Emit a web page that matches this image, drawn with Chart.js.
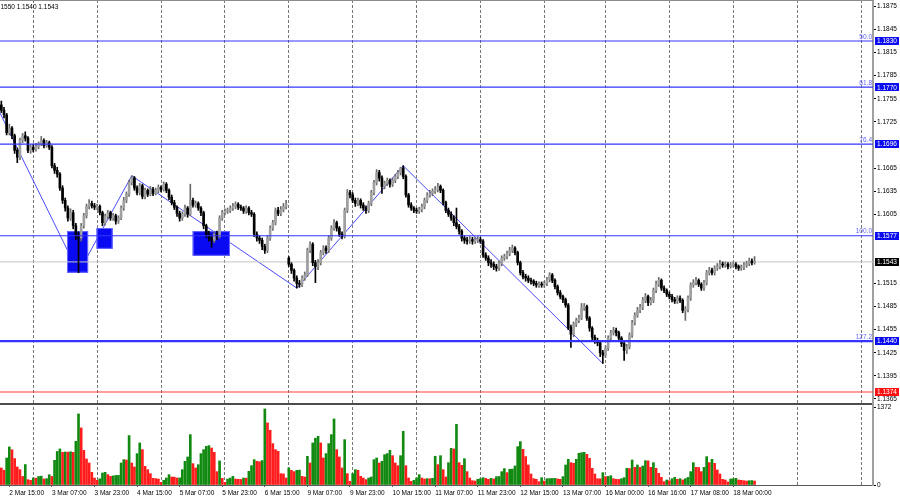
<!DOCTYPE html>
<html>
<head>
<meta charset="utf-8">
<script src="https://cdn.jsdelivr.net/npm/chart.js@4"></script>
<style>
  body { margin: 0; background: #fff; width: 900px; height: 500px; overflow: hidden; position: relative; }
  canvas { position: absolute; left: 0; }
  #price { top: 0; }
  #volume { top: 403px; }
</style>
</head>
<body>
<canvas id="price" width="900" height="403"></canvas>
<canvas id="volume" width="900" height="97"></canvas>
<script>
// EURUSD H1, 2 Mar - 18 Mar, one entry per hourly candle
const opens = [
  1.1747, 1.1740, 1.1734, 1.1711, 1.1717, 1.1707, 1.1688, 1.1679, 1.1701, 1.1707, 1.1704, 1.1688,
  1.1692, 1.1689, 1.1693, 1.1696, 1.1701, 1.1694, 1.1698, 1.1692, 1.1668, 1.1662, 1.1657, 1.1639,
  1.1623, 1.1613, 1.1600, 1.1607, 1.1590, 1.1576, 1.1574, 1.1590, 1.1603, 1.1615, 1.1619, 1.1616,
  1.1614, 1.1615, 1.1607, 1.1594, 1.1602, 1.1607, 1.1600, 1.1603, 1.1596, 1.1600, 1.1613, 1.1623,
  1.1631, 1.1646, 1.1652, 1.1639, 1.1633, 1.1642, 1.1628, 1.1636, 1.1631, 1.1637, 1.1632, 1.1636,
  1.1640, 1.1637, 1.1644, 1.1636, 1.1627, 1.1620, 1.1614, 1.1606, 1.1600, 1.1605, 1.1613, 1.1605,
  1.1623, 1.1617, 1.1619, 1.1613, 1.1607, 1.1590, 1.1578, 1.1574, 1.1571, 1.1579, 1.1576, 1.1600,
  1.1607, 1.1609, 1.1610, 1.1613, 1.1615, 1.1618, 1.1614, 1.1613, 1.1609, 1.1613, 1.1607, 1.1605,
  1.1579, 1.1574, 1.1571, 1.1563, 1.1558, 1.1574, 1.1587, 1.1594, 1.1610, 1.1606, 1.1611, 1.1615,
  1.1548, 1.1540, 1.1532, 1.1522, 1.1515, 1.1514, 1.1522, 1.1526, 1.1558, 1.1566, 1.1542, 1.1537,
  1.1542, 1.1555, 1.1561, 1.1558, 1.1574, 1.1587, 1.1594, 1.1587, 1.1579, 1.1576, 1.1610, 1.1633,
  1.1630, 1.1623, 1.1619, 1.1623, 1.1617, 1.1613, 1.1610, 1.1619, 1.1633, 1.1646, 1.1659, 1.1652,
  1.1641, 1.1645, 1.1649, 1.1644, 1.1649, 1.1654, 1.1659, 1.1665, 1.1654, 1.1630, 1.1617, 1.1613,
  1.1610, 1.1609, 1.1611, 1.1615, 1.1623, 1.1630, 1.1632, 1.1635, 1.1637, 1.1641, 1.1636, 1.1620,
  1.1610, 1.1605, 1.1600, 1.1594, 1.1589, 1.1583, 1.1574, 1.1571, 1.1570, 1.1572, 1.1570, 1.1571,
  1.1572, 1.1570, 1.1552, 1.1548, 1.1542, 1.1540, 1.1537, 1.1535, 1.1541, 1.1548, 1.1550, 1.1554,
  1.1558, 1.1561, 1.1555, 1.1542, 1.1529, 1.1524, 1.1522, 1.1519, 1.1518, 1.1515, 1.1513, 1.1514,
  1.1513, 1.1515, 1.1520, 1.1526, 1.1519, 1.1511, 1.1503, 1.1498, 1.1494, 1.1487, 1.1458, 1.1449,
  1.1462, 1.1467, 1.1470, 1.1483, 1.1485, 1.1470, 1.1457, 1.1445, 1.1441, 1.1438, 1.1425, 1.1422,
  1.1431, 1.1444, 1.1451, 1.1454, 1.1451, 1.1444, 1.1437, 1.1428, 1.1433, 1.1448, 1.1464, 1.1474,
  1.1480, 1.1484, 1.1493, 1.1498, 1.1490, 1.1493, 1.1506, 1.1514, 1.1519, 1.1509, 1.1506, 1.1501,
  1.1498, 1.1494, 1.1492, 1.1496, 1.1493, 1.1480, 1.1481, 1.1496, 1.1513, 1.1516, 1.1519, 1.1514,
  1.1509, 1.1516, 1.1529, 1.1532, 1.1529, 1.1535, 1.1537, 1.1540, 1.1539, 1.1540, 1.1537, 1.1539,
  1.1540, 1.1537, 1.1535, 1.1536, 1.1539, 1.1541, 1.1544, 1.1542
];
const highs = [
  1.1752, 1.1744, 1.1736, 1.1722, 1.1719, 1.1709, 1.1691, 1.1704, 1.1710, 1.1712, 1.1706, 1.1695,
  1.1696, 1.1697, 1.1699, 1.1706, 1.1703, 1.1701, 1.1700, 1.1694, 1.1671, 1.1666, 1.1659, 1.1642,
  1.1626, 1.1616, 1.1612, 1.1610, 1.1593, 1.1582, 1.1593, 1.1606, 1.1618, 1.1624, 1.1622, 1.1619,
  1.1618, 1.1617, 1.1609, 1.1605, 1.1610, 1.1609, 1.1606, 1.1605, 1.1603, 1.1616, 1.1627, 1.1634,
  1.1649, 1.1655, 1.1654, 1.1642, 1.1645, 1.1644, 1.1639, 1.1638, 1.1641, 1.1640, 1.1639, 1.1643,
  1.1642, 1.1647, 1.1646, 1.1638, 1.1630, 1.1623, 1.1616, 1.1609, 1.1608, 1.1617, 1.1615, 1.1644,
  1.1626, 1.1622, 1.1621, 1.1615, 1.1609, 1.1592, 1.1583, 1.1578, 1.1582, 1.1583, 1.1603, 1.1610,
  1.1612, 1.1613, 1.1616, 1.1619, 1.1621, 1.1620, 1.1617, 1.1615, 1.1616, 1.1615, 1.1610, 1.1607,
  1.1582, 1.1577, 1.1574, 1.1566, 1.1577, 1.1590, 1.1597, 1.1613, 1.1614, 1.1615, 1.1619, 1.1623,
  1.1550, 1.1542, 1.1534, 1.1525, 1.1519, 1.1525, 1.1530, 1.1561, 1.1569, 1.1568, 1.1545, 1.1546,
  1.1558, 1.1564, 1.1564, 1.1577, 1.1590, 1.1598, 1.1596, 1.1589, 1.1582, 1.1613, 1.1637, 1.1636,
  1.1633, 1.1626, 1.1626, 1.1625, 1.1620, 1.1616, 1.1622, 1.1636, 1.1649, 1.1663, 1.1662, 1.1655,
  1.1648, 1.1652, 1.1651, 1.1652, 1.1657, 1.1662, 1.1666, 1.1668, 1.1656, 1.1632, 1.1620, 1.1615,
  1.1613, 1.1614, 1.1618, 1.1626, 1.1633, 1.1636, 1.1638, 1.1641, 1.1645, 1.1643, 1.1638, 1.1622,
  1.1613, 1.1608, 1.1603, 1.1613, 1.1592, 1.1585, 1.1577, 1.1575, 1.1576, 1.1575, 1.1575, 1.1576,
  1.1575, 1.1572, 1.1555, 1.1551, 1.1546, 1.1543, 1.1540, 1.1544, 1.1551, 1.1553, 1.1557, 1.1562,
  1.1565, 1.1563, 1.1557, 1.1544, 1.1532, 1.1527, 1.1525, 1.1522, 1.1520, 1.1518, 1.1517, 1.1517,
  1.1518, 1.1523, 1.1529, 1.1528, 1.1521, 1.1513, 1.1506, 1.1500, 1.1496, 1.1489, 1.1461, 1.1465,
  1.1470, 1.1474, 1.1489, 1.1489, 1.1487, 1.1472, 1.1459, 1.1448, 1.1444, 1.1440, 1.1428, 1.1434,
  1.1447, 1.1454, 1.1458, 1.1457, 1.1453, 1.1446, 1.1439, 1.1436, 1.1451, 1.1467, 1.1477, 1.1484,
  1.1488, 1.1497, 1.1502, 1.1500, 1.1497, 1.1509, 1.1518, 1.1523, 1.1521, 1.1512, 1.1508, 1.1504,
  1.1501, 1.1497, 1.1499, 1.1499, 1.1495, 1.1485, 1.1499, 1.1516, 1.1520, 1.1523, 1.1521, 1.1516,
  1.1519, 1.1532, 1.1536, 1.1535, 1.1538, 1.1541, 1.1545, 1.1543, 1.1543, 1.1542, 1.1542, 1.1543,
  1.1542, 1.1539, 1.1539, 1.1542, 1.1544, 1.1548, 1.1547, 1.1550
];
const lows = [
  1.1737, 1.1730, 1.1708, 1.1708, 1.1703, 1.1684, 1.1672, 1.1676, 1.1698, 1.1700, 1.1685, 1.1684,
  1.1686, 1.1687, 1.1690, 1.1694, 1.1691, 1.1692, 1.1689, 1.1665, 1.1658, 1.1653, 1.1636, 1.1619,
  1.1609, 1.1596, 1.1597, 1.1586, 1.1572, 1.1529, 1.1570, 1.1587, 1.1600, 1.1612, 1.1613, 1.1611,
  1.1611, 1.1604, 1.1590, 1.1591, 1.1599, 1.1597, 1.1597, 1.1592, 1.1593, 1.1598, 1.1610, 1.1620,
  1.1628, 1.1643, 1.1636, 1.1630, 1.1630, 1.1625, 1.1625, 1.1628, 1.1629, 1.1629, 1.1630, 1.1633,
  1.1634, 1.1635, 1.1633, 1.1624, 1.1617, 1.1611, 1.1602, 1.1596, 1.1597, 1.1602, 1.1601, 1.1603,
  1.1614, 1.1614, 1.1610, 1.1603, 1.1586, 1.1575, 1.1570, 1.1562, 1.1568, 1.1572, 1.1574, 1.1597,
  1.1604, 1.1606, 1.1607, 1.1610, 1.1612, 1.1611, 1.1610, 1.1606, 1.1606, 1.1604, 1.1602, 1.1576,
  1.1570, 1.1567, 1.1559, 1.1554, 1.1555, 1.1571, 1.1584, 1.1591, 1.1603, 1.1603, 1.1608, 1.1612,
  1.1537, 1.1528, 1.1518, 1.1509, 1.1510, 1.1511, 1.1519, 1.1524, 1.1555, 1.1538, 1.1516, 1.1533,
  1.1539, 1.1552, 1.1554, 1.1555, 1.1571, 1.1584, 1.1583, 1.1576, 1.1573, 1.1574, 1.1607, 1.1626,
  1.1620, 1.1615, 1.1616, 1.1613, 1.1610, 1.1606, 1.1607, 1.1616, 1.1630, 1.1643, 1.1648, 1.1632,
  1.1638, 1.1642, 1.1640, 1.1641, 1.1646, 1.1651, 1.1656, 1.1651, 1.1627, 1.1614, 1.1610, 1.1607,
  1.1606, 1.1606, 1.1608, 1.1612, 1.1620, 1.1627, 1.1629, 1.1632, 1.1634, 1.1633, 1.1617, 1.1607,
  1.1602, 1.1597, 1.1590, 1.1586, 1.1579, 1.1570, 1.1567, 1.1566, 1.1567, 1.1566, 1.1567, 1.1568,
  1.1567, 1.1549, 1.1545, 1.1538, 1.1536, 1.1533, 1.1531, 1.1532, 1.1538, 1.1545, 1.1547, 1.1551,
  1.1555, 1.1552, 1.1539, 1.1526, 1.1521, 1.1518, 1.1516, 1.1514, 1.1512, 1.1510, 1.1510, 1.1510,
  1.1510, 1.1512, 1.1517, 1.1516, 1.1508, 1.1500, 1.1495, 1.1490, 1.1484, 1.1455, 1.1432, 1.1446,
  1.1459, 1.1464, 1.1468, 1.1480, 1.1467, 1.1453, 1.1441, 1.1437, 1.1434, 1.1420, 1.1411, 1.1419,
  1.1428, 1.1441, 1.1448, 1.1447, 1.1440, 1.1433, 1.1415, 1.1424, 1.1430, 1.1445, 1.1461, 1.1471,
  1.1477, 1.1481, 1.1490, 1.1486, 1.1487, 1.1490, 1.1503, 1.1511, 1.1506, 1.1503, 1.1498, 1.1495,
  1.1491, 1.1489, 1.1489, 1.1490, 1.1477, 1.1467, 1.1478, 1.1493, 1.1510, 1.1513, 1.1511, 1.1506,
  1.1506, 1.1513, 1.1526, 1.1526, 1.1526, 1.1532, 1.1534, 1.1536, 1.1536, 1.1534, 1.1535, 1.1536,
  1.1534, 1.1532, 1.1532, 1.1533, 1.1536, 1.1538, 1.1539, 1.1540
];
const closes = [
  1.1740, 1.1734, 1.1711, 1.1717, 1.1707, 1.1688, 1.1679, 1.1701, 1.1707, 1.1704, 1.1688, 1.1692,
  1.1689, 1.1693, 1.1696, 1.1701, 1.1694, 1.1698, 1.1692, 1.1668, 1.1662, 1.1657, 1.1639, 1.1623,
  1.1613, 1.1600, 1.1607, 1.1590, 1.1576, 1.1574, 1.1590, 1.1603, 1.1615, 1.1619, 1.1616, 1.1614,
  1.1615, 1.1607, 1.1594, 1.1602, 1.1607, 1.1600, 1.1603, 1.1596, 1.1600, 1.1613, 1.1623, 1.1631,
  1.1646, 1.1652, 1.1639, 1.1633, 1.1642, 1.1628, 1.1636, 1.1631, 1.1637, 1.1632, 1.1636, 1.1640,
  1.1637, 1.1644, 1.1636, 1.1627, 1.1620, 1.1614, 1.1606, 1.1600, 1.1605, 1.1613, 1.1605, 1.1623,
  1.1617, 1.1619, 1.1613, 1.1607, 1.1590, 1.1578, 1.1574, 1.1571, 1.1579, 1.1576, 1.1600, 1.1607,
  1.1609, 1.1610, 1.1613, 1.1615, 1.1618, 1.1614, 1.1613, 1.1609, 1.1613, 1.1607, 1.1605, 1.1579,
  1.1574, 1.1571, 1.1563, 1.1558, 1.1574, 1.1587, 1.1594, 1.1610, 1.1606, 1.1611, 1.1615, 1.1618,
  1.1540, 1.1532, 1.1522, 1.1515, 1.1514, 1.1522, 1.1526, 1.1558, 1.1566, 1.1542, 1.1537, 1.1542,
  1.1555, 1.1561, 1.1558, 1.1574, 1.1587, 1.1594, 1.1587, 1.1579, 1.1576, 1.1610, 1.1633, 1.1630,
  1.1623, 1.1619, 1.1623, 1.1617, 1.1613, 1.1610, 1.1619, 1.1633, 1.1646, 1.1659, 1.1652, 1.1641,
  1.1645, 1.1649, 1.1644, 1.1649, 1.1654, 1.1659, 1.1665, 1.1654, 1.1630, 1.1617, 1.1613, 1.1610,
  1.1609, 1.1611, 1.1615, 1.1623, 1.1630, 1.1632, 1.1635, 1.1637, 1.1641, 1.1636, 1.1620, 1.1610,
  1.1605, 1.1600, 1.1594, 1.1589, 1.1583, 1.1574, 1.1571, 1.1570, 1.1572, 1.1570, 1.1571, 1.1572,
  1.1570, 1.1552, 1.1548, 1.1542, 1.1540, 1.1537, 1.1535, 1.1541, 1.1548, 1.1550, 1.1554, 1.1558,
  1.1561, 1.1555, 1.1542, 1.1529, 1.1524, 1.1522, 1.1519, 1.1518, 1.1515, 1.1513, 1.1514, 1.1513,
  1.1515, 1.1520, 1.1526, 1.1519, 1.1511, 1.1503, 1.1498, 1.1494, 1.1487, 1.1458, 1.1449, 1.1462,
  1.1467, 1.1470, 1.1483, 1.1485, 1.1470, 1.1457, 1.1445, 1.1441, 1.1438, 1.1425, 1.1422, 1.1431,
  1.1444, 1.1451, 1.1454, 1.1451, 1.1444, 1.1437, 1.1428, 1.1433, 1.1448, 1.1464, 1.1474, 1.1480,
  1.1484, 1.1493, 1.1498, 1.1490, 1.1493, 1.1506, 1.1514, 1.1519, 1.1509, 1.1506, 1.1501, 1.1498,
  1.1494, 1.1492, 1.1496, 1.1493, 1.1480, 1.1481, 1.1496, 1.1513, 1.1516, 1.1519, 1.1514, 1.1509,
  1.1516, 1.1529, 1.1532, 1.1529, 1.1535, 1.1537, 1.1540, 1.1539, 1.1540, 1.1537, 1.1539, 1.1540,
  1.1537, 1.1535, 1.1536, 1.1539, 1.1541, 1.1544, 1.1542, 1.1543
];
const volumes = [
  300, 260, 475, 670, 620, 465, 317, 270, 150, 360, 94, 82,
  123, 120, 150, 155, 105, 112, 180, 150, 434, 590, 634, 575,
  580, 578, 585, 575, 769, 1250, 1004, 610, 458, 387, 223, 123,
  82, 110, 211, 223, 182, 152, 160, 168, 170, 387, 446, 440,
  869, 387, 317, 552, 740, 622, 329, 270, 200, 117, 112, 105,
  47, 82, 123, 182, 141, 138, 123, 125, 270, 417, 493, 886,
  376, 300, 358, 552, 622, 680, 693, 651, 575, 235, 423, 117,
  47, 105, 123, 152, 105, 100, 98, 123, 120, 240, 340, 446,
  417, 410, 430, 1338, 1092, 963, 728, 622, 593, 200, 195, 123,
  300, 258, 235, 258, 262, 152, 141, 505, 387, 740, 822, 857,
  740, 475, 552, 728, 886, 1162, 622, 493, 300, 798, 200, 65,
  200, 270, 258, 152, 123, 94, 123, 141, 446, 475, 387, 417,
  534, 552, 610, 516, 387, 340, 516, 945, 340, 123, 65, 82,
  123, 182, 123, 105, 112, 110, 117, 505, 358, 516, 270, 141,
  393, 645, 634, 1068, 393, 346, 463, 235, 123, 76, 70, 100,
  111, 129, 117, 100, 117, 106, 147, 150, 235, 288, 217, 276,
  280, 335, 675, 763, 628, 499, 352, 194, 111, 100, 59, 129,
  70, 111, 113, 115, 117, 106, 100, 147, 352, 452, 393, 381,
  452, 558, 569, 575, 540, 470, 294, 194, 111, 108, 217, 147,
  150, 164, 111, 100, 98, 111, 129, 294, 290, 440, 311, 352,
  311, 335, 428, 425, 311, 393, 294, 205, 135, 59, 88, 76,
  111, 135, 100, 111, 88, 111, 135, 235, 393, 311, 308, 235,
  311, 499, 393, 452, 381, 264, 194, 100, 88, 53, 106, 111,
  117, 88, 82, 76, 70, 76, 78, 70
];

// time axis: labels every 16 bars, dashed separators at day starts
const labelIdx = [3, 19, 35, 51, 67, 83, 99, 115, 131, 147, 163, 179, 195, 211, 227, 243, 259, 275];
const timeLabels = ['2 Mar 15:00', '3 Mar 07:00', '3 Mar 23:00', '4 Mar 15:00', '5 Mar 07:00', '5 Mar 23:00',
  '6 Mar 15:00', '9 Mar 07:00', '9 Mar 23:00', '10 Mar 15:00', '11 Mar 07:00', '11 Mar 23:00',
  '12 Mar 15:00', '13 Mar 07:00', '16 Mar 00:00', '16 Mar 16:00', '17 Mar 08:00', '18 Mar 00:00'];
const dayStarts = [12, 36, 60, 84, 108, 132, 156, 180, 204, 227, 251, 275, 299, 323];

const priceTicks = [1.1365, 1.1395, 1.1425, 1.1455, 1.1485, 1.1515, 1.1605, 1.1635, 1.1665,
  1.1725, 1.1755, 1.1785, 1.1815, 1.1845, 1.1875];
const volumeTicks = [0, 1372];

// fibo levels, support line, zigzag and zones
const fibLevels = [1.1830, 1.1770, 1.1696, 1.1577, 1.1440];
const fibNames = ['50.0', '61.8', '76.4', '100.0', '127.2'];
const redLevel = 1.1374;
const zigIdx = [-0.5, 29, 49, 111, 151, 226];
const zigPrice = [1.17365, 1.1529, 1.1655, 1.1509, 1.1668, 1.1411];
const zoneFrom = [24.7, 35.8, 71.9];
const zoneTo = [32.6, 41.8, 85.9];
const zoneTop = [1.1583, 1.1587, 1.1583];
const zoneBottom = [1.1529, 1.1560, 1.1551];

const X_MIN = -0.5;
const X_MAX = 327.5;
const FONT = '"Liberation Sans", Arial, sans-serif';
Chart.defaults.font.family = FONT;

const last = closes.length - 1;
const lastPrice = closes[last];
const idx = closes.map((c, i) => i);
const bull = idx.map(i => closes[i] >= opens[i]);

function hLine(v, color, width, order) {
  return {
    type: 'line',
    data: [{ x: X_MIN, y: v }, { x: X_MAX, y: v }],
    borderColor: color,
    borderWidth: width,
    pointRadius: 0,
    order: order
  };
}

function rightAxis(min, max, tickValues) {
  return {
    position: 'right',
    min: min,
    max: max,
    grid: { drawOnChartArea: false, tickLength: 3, tickColor: '#000', tickWidth: 1 },
    border: { display: true, color: '#a0a0a0', width: 2 },
    ticks: { color: '#000', font: { size: 6.5 }, padding: 1, callback: v => v > 1 && v < 2 ? v.toFixed(4) : String(v) },
    afterBuildTicks: s => { s.ticks = tickValues.map(v => ({ value: v })); },
    afterFit: s => { s.width = 27; s.paddingTop = 0; s.paddingBottom = 0; }
  };
}

function gridAxis() {
  return {
    type: 'linear',
    position: 'bottom',
    min: X_MIN,
    max: X_MAX,
    offset: false,
    grid: { offset: false, color: '#777', lineWidth: 1, drawTicks: false },
    border: { display: false, dash: [3, 2] },
    ticks: { display: false },
    afterBuildTicks: s => { s.ticks = dayStarts.map(v => ({ value: v })); },
    afterFit: s => { s.height = 0; s.paddingLeft = 0; s.paddingRight = 0; }
  };
}

// zones sit on top of the zigzag but under the candles (dataset 0 = zigzag)
const zonesPlugin = {
  id: 'zones',
  afterDatasetDraw(chart, args) {
    if (args.index !== 0) return;
    const { ctx, scales: { x, y } } = chart;
    ctx.save();
    zoneFrom.forEach((f, k) => {
      const x0 = x.getPixelForValue(f);
      const x1 = x.getPixelForValue(zoneTo[k]);
      const y0 = y.getPixelForValue(zoneTop[k]);
      const y1 = y.getPixelForValue(zoneBottom[k]);
      ctx.fillStyle = '#0a0af2';
      ctx.fillRect(x0, y0, x1 - x0, y1 - y0);
      ctx.strokeStyle = '#6a6aff';
      ctx.lineWidth = 1;
      ctx.strokeRect(x0 + 0.5, y0 + 0.5, x1 - x0 - 1, y1 - y0 - 1);
    });
    ctx.restore();
  }
};

const priceLabelsPlugin = {
  id: 'priceLabels',
  afterDraw(chart) {
    const { ctx, chartArea: a, scales: { y } } = chart;
    ctx.save();
    ctx.fillStyle = '#8c8c8c';
    ctx.fillRect(0, 0, a.right, 1);

    ctx.font = '6.5px ' + FONT;
    ctx.fillStyle = '#6464ff';
    ctx.textAlign = 'right';
    ctx.textBaseline = 'bottom';
    fibLevels.forEach((v, k) => ctx.fillText(fibNames[k], a.right - 1, y.getPixelForValue(v) - 1));

    function tag(v, bg) {
      const py = y.getPixelForValue(v);
      ctx.fillStyle = bg;
      ctx.fillRect(a.right + 2, Math.round(py) - 4, 24, 8);
      ctx.fillStyle = '#fff';
      ctx.textAlign = 'left';
      ctx.textBaseline = 'middle';
      ctx.fillText(v.toFixed(4), a.right + 4, py + 0.5);
    }
    fibLevels.forEach(v => tag(v, '#0c0cf0'));
    tag(redLevel, '#ff1010');
    tag(lastPrice, '#000');

    ctx.fillStyle = '#000';
    ctx.textAlign = 'left';
    ctx.textBaseline = 'middle';
    ctx.fillText([highs[last], lows[last], closes[last]].map(v => v.toFixed(4)).join(' '), -5, 7);
    ctx.restore();
  }
};

new Chart(document.getElementById('price'), {
  type: 'bar',
  data: {
    datasets: [
      {
        type: 'line',
        data: zigIdx.map((v, k) => ({ x: v, y: zigPrice[k] })),
        borderColor: '#4a4aff',
        borderWidth: 1,
        pointRadius: 0,
        order: 10
      },
      ...fibLevels.map((v, k) => hLine(v, '#3434ff', k === fibLevels.length - 1 ? 2.2 : 1.2, 1)),
      hLine(redLevel, '#ff3c3c', 1.2, 1),
      {
        data: idx.map(i => ({ x: i, y: [opens[i], closes[i]] })),
        backgroundColor: bull.map(b => b ? '#a0a0a0' : '#000'),
        barThickness: 2,
        minBarLength: 1,
        grouped: false,
        order: 2
      },
      {
        data: idx.map(i => ({ x: i, y: [lows[i], highs[i]] })),
        backgroundColor: bull.map(b => b ? '#6a6a6a' : '#000'),
        barThickness: 1,
        grouped: false,
        order: 3
      },
      hLine(lastPrice, '#c4c4c4', 1, 9)
    ]
  },
  options: {
    responsive: false,
    animation: false,
    events: [],
    layout: { padding: 0 },
    plugins: { legend: { display: false }, tooltip: { enabled: false } },
    scales: {
      x: gridAxis(),
      y: rightAxis(1.13597, 1.18833, priceTicks)
    }
  },
  plugins: [zonesPlugin, priceLabelsPlugin]
});

const volUp = volumes.map((v, i) => i > 0 && v > volumes[i - 1]);

const separatorPlugin = {
  id: 'separator',
  afterDraw(chart) {
    const { ctx, chartArea: a } = chart;
    ctx.save();
    ctx.fillStyle = '#4c4c4c';
    ctx.fillRect(0, 0, a.right, 2);
    ctx.fillStyle = '#a0a0a0';
    ctx.fillRect(a.right - 1, 0, 2, a.top);
    ctx.restore();
  }
};

new Chart(document.getElementById('volume'), {
  type: 'bar',
  data: {
    datasets: [{
      data: idx.map(i => ({ x: i, y: volumes[i] })),
      backgroundColor: volUp.map(u => u ? '#128a12' : '#ff1c1c'),
      barThickness: 2,
      grouped: false
    }]
  },
  options: {
    responsive: false,
    animation: false,
    events: [],
    layout: { padding: { top: 4 } },
    plugins: { legend: { display: false }, tooltip: { enabled: false } },
    scales: {
      x: {
        type: 'linear',
        position: 'bottom',
        min: X_MIN,
        max: X_MAX,
        offset: false,
        grid: { drawOnChartArea: false, offset: false, tickLength: 2, tickColor: '#606060' },
        border: { display: true, color: '#5a5a5a', width: 1 },
        ticks: {
          align: 'start', color: '#000', font: { size: 6.5 }, padding: 2,
          autoSkip: false, maxRotation: 0,
          callback: v => timeLabels[labelIdx.indexOf(v)]
        },
        afterBuildTicks: s => { s.ticks = labelIdx.map(v => ({ value: v })); },
        afterFit: s => { s.height = 15; s.paddingLeft = 0; s.paddingRight = 0; }
      },
      xg: gridAxis(),
      y: rightAxis(0, 1372, volumeTicks)
    }
  },
  plugins: [separatorPlugin]
});
</script>
</body>
</html>
